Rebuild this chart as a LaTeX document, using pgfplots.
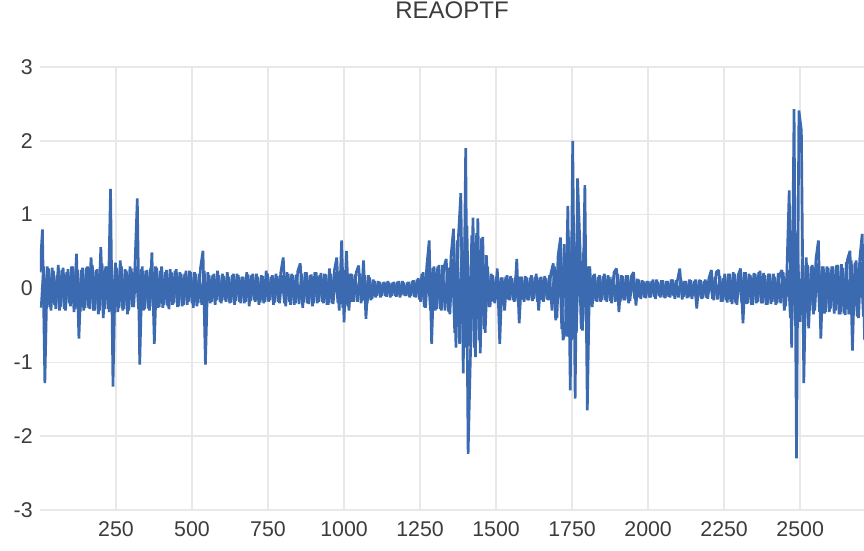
\documentclass[border=0pt]{standalone}
\usepackage{pgfplots}
\pgfplotsset{compat=1.18}
\usepackage{pgfplotstable}
\usepackage{fontspec}
\setmainfont{Liberation Sans}
\usetikzlibrary{calc}
\definecolor{series}{RGB}{59,106,177}
\definecolor{gridc}{RGB}{232,232,232}
\definecolor{txt}{RGB}{60,60,60}
% spikes and main readings, x = 8*i
\pgfplotstableread[row sep=\\]{
y\\
0.22\\0.80\\-1.28\\0.30\\-0.25\\0.28\\-0.22\\0.18\\-0.30\\0.25\\
-0.28\\0.22\\-0.20\\0.30\\-0.32\\0.47\\-0.68\\0.25\\-0.30\\0.28\\
-0.26\\0.42\\-0.30\\0.25\\-0.35\\0.56\\-0.40\\0.30\\-0.28\\1.35\\
-1.33\\0.35\\-0.32\\0.38\\-0.30\\0.26\\-0.35\\0.30\\-0.25\\0.28\\
1.22\\-1.03\\0.30\\-0.28\\0.25\\-0.30\\0.49\\-0.75\\0.28\\-0.25\\
0.30\\-0.22\\0.25\\-0.28\\0.22\\-0.20\\0.26\\-0.24\\0.20\\-0.22\\
0.24\\-0.18\\0.22\\-0.26\\0.20\\-0.20\\0.28\\0.51\\-1.03\\0.22\\
-0.20\\0.18\\-0.22\\0.24\\-0.18\\0.20\\-0.16\\0.22\\-0.20\\0.18\\
-0.22\\0.20\\-0.18\\0.16\\-0.20\\0.22\\-0.24\\0.18\\-0.16\\0.20\\
-0.22\\0.18\\-0.20\\0.24\\-0.18\\0.16\\-0.22\\0.20\\-0.18\\0.22\\
0.42\\-0.24\\0.20\\-0.22\\0.18\\-0.20\\0.24\\0.34\\-0.26\\0.22\\
-0.20\\0.18\\-0.24\\0.22\\-0.20\\0.18\\-0.18\\0.20\\-0.22\\0.27\\
-0.20\\0.24\\0.42\\-0.30\\0.65\\-0.46\\0.51\\-0.30\\0.20\\-0.18\\
0.22\\0.31\\-0.20\\0.38\\-0.41\\0.18\\-0.16\\0.12\\-0.12\\0.10\\
-0.12\\0.08\\-0.10\\0.10\\-0.12\\0.08\\-0.10\\0.09\\-0.12\\0.10\\
-0.10\\0.08\\-0.12\\0.10\\-0.11\\0.12\\-0.15\\0.20\\-0.25\\0.30\\
0.65\\-0.75\\0.30\\-0.28\\0.32\\-0.30\\0.28\\0.40\\-0.32\\0.45\\
0.81\\-0.80\\0.70\\1.29\\-1.15\\1.90\\-2.24\\-0.85\\0.96\\-0.93\\
0.95\\-0.88\\0.70\\-0.60\\0.30\\-0.25\\0.18\\-0.20\\0.27\\-0.75\\
0.15\\-0.30\\0.18\\-0.16\\0.14\\-0.18\\0.40\\-0.47\\0.16\\-0.18\\
0.15\\-0.16\\0.18\\-0.14\\0.20\\-0.30\\0.16\\-0.18\\0.14\\-0.16\\
0.20\\0.34\\-0.43\\0.45\\0.69\\-0.70\\-0.57\\1.12\\-1.38\\2.00\\
-1.49\\1.49\\0.56\\-0.57\\1.40\\-1.65\\0.30\\-0.25\\0.20\\-0.18\\
0.18\\-0.16\\0.20\\-0.18\\0.16\\-0.20\\0.22\\0.27\\-0.32\\0.18\\
-0.16\\0.18\\-0.20\\0.16\\0.22\\-0.23\\0.12\\-0.14\\0.10\\-0.13\\
0.10\\-0.12\\0.12\\-0.14\\0.09\\-0.12\\0.11\\-0.13\\0.10\\-0.12\\
0.12\\-0.14\\0.10\\0.27\\-0.15\\0.10\\-0.13\\0.12\\-0.14\\0.10\\
-0.27\\0.12\\-0.14\\0.10\\-0.12\\0.14\\0.25\\-0.16\\0.22\\0.25\\
-0.18\\0.14\\-0.16\\0.20\\-0.18\\0.22\\-0.20\\0.18\\0.27\\-0.47\\
0.22\\-0.20\\0.18\\-0.22\\0.20\\-0.18\\0.24\\-0.20\\0.18\\-0.22\\
0.20\\-0.18\\0.16\\-0.20\\0.18\\0.25\\-0.30\\0.18\\1.33\\-0.80\\
2.43\\-2.30\\2.41\\2.14\\-1.28\\0.42\\-0.54\\0.30\\-0.35\\0.40\\
0.65\\-0.68\\0.30\\-0.32\\0.28\\-0.27\\0.30\\-0.30\\0.32\\-0.35\\
0.28\\-0.36\\0.40\\0.51\\-0.84\\0.35\\-0.38\\0.40\\0.74\\-0.70\\
}\datatab
% in-between readings of the dense band, x = 4 + 8*i
\pgfplotstableread[row sep=\\]{
y\\
-0.26\\0.30\\-0.22\\0.27\\-0.30\\0.24\\-0.28\\0.32\\-0.25\\0.28\\
-0.30\\0.26\\-0.24\\0.30\\-0.28\\0.25\\-0.32\\0.28\\-0.26\\0.30\\
-0.28\\0.32\\-0.30\\0.26\\-0.30\\0.34\\-0.28\\0.30\\-0.32\\0.28\\
-0.30\\0.28\\-0.26\\0.30\\-0.28\\0.24\\-0.30\\0.27\\-0.25\\0.30\\
-0.28\\0.26\\-0.30\\0.24\\-0.27\\0.28\\-0.25\\0.30\\-0.26\\0.24\\
-0.26\\0.22\\-0.24\\0.26\\-0.22\\0.24\\-0.25\\0.22\\-0.24\\0.20\\
-0.22\\0.24\\-0.20\\0.22\\-0.24\\0.20\\-0.22\\0.24\\-0.20\\0.18\\
-0.18\\0.20\\-0.16\\0.18\\-0.20\\0.17\\-0.18\\0.16\\-0.19\\0.20\\
-0.17\\0.18\\-0.20\\0.16\\-0.18\\0.19\\-0.17\\0.20\\-0.18\\0.16\\
-0.19\\0.17\\-0.18\\0.20\\-0.16\\0.18\\-0.19\\0.17\\-0.20\\0.18\\
-0.20\\0.22\\-0.18\\0.20\\-0.22\\0.19\\-0.21\\0.20\\-0.19\\0.22\\
-0.21\\0.19\\-0.20\\0.22\\-0.18\\0.21\\-0.20\\0.19\\-0.22\\0.20\\
-0.21\\0.22\\-0.20\\0.24\\-0.26\\0.25\\-0.24\\0.20\\-0.18\\0.19\\
-0.18\\0.20\\-0.17\\0.18\\-0.20\\0.15\\-0.14\\0.10\\-0.10\\0.09\\
-0.10\\0.09\\-0.11\\0.08\\-0.10\\0.09\\-0.11\\0.10\\-0.09\\0.08\\
-0.10\\0.09\\-0.10\\0.11\\-0.12\\0.14\\-0.18\\0.22\\-0.26\\0.28\\
-0.30\\0.28\\-0.30\\0.30\\-0.28\\0.32\\-0.30\\0.28\\-0.35\\0.40\\
-0.60\\0.65\\-0.75\\0.70\\-0.80\\0.85\\-0.78\\0.72\\-0.80\\0.75\\
-0.70\\0.68\\-0.55\\0.45\\-0.25\\0.20\\-0.18\\0.16\\-0.18\\0.15\\
-0.17\\0.16\\-0.15\\0.17\\-0.16\\0.15\\-0.18\\0.16\\-0.15\\0.17\\
-0.16\\0.15\\-0.17\\0.16\\-0.18\\0.15\\-0.16\\0.17\\-0.15\\0.18\\
-0.30\\0.30\\-0.40\\0.50\\-0.55\\0.60\\-0.65\\0.70\\-0.70\\0.75\\
-0.60\\0.65\\-0.55\\0.50\\-0.45\\0.30\\-0.20\\0.18\\-0.17\\0.16\\
-0.18\\0.17\\-0.16\\0.18\\-0.17\\0.16\\-0.18\\0.20\\-0.18\\0.17\\
-0.16\\0.18\\-0.17\\0.15\\-0.14\\0.13\\-0.12\\0.11\\-0.12\\0.10\\
-0.12\\0.10\\-0.11\\0.12\\-0.10\\0.11\\-0.12\\0.10\\-0.11\\0.12\\
-0.10\\0.11\\-0.12\\0.12\\-0.11\\0.10\\-0.12\\0.11\\-0.10\\0.12\\
-0.12\\0.11\\-0.13\\0.12\\-0.14\\0.15\\-0.14\\0.16\\-0.15\\0.17\\
-0.18\\0.20\\-0.19\\0.20\\-0.21\\0.20\\-0.22\\0.20\\-0.20\\0.22\\
-0.21\\0.20\\-0.22\\0.21\\-0.20\\0.22\\-0.20\\0.21\\-0.22\\0.20\\
-0.21\\0.20\\-0.22\\0.21\\-0.20\\0.22\\-0.24\\0.25\\-0.40\\0.45\\
-0.50\\0.50\\-0.45\\0.40\\-0.35\\0.32\\-0.30\\0.32\\-0.30\\0.34\\
-0.32\\0.30\\-0.34\\0.30\\-0.32\\0.30\\-0.34\\0.32\\-0.35\\0.33\\
-0.34\\0.36\\-0.35\\0.38\\-0.36\\0.38\\-0.40\\0.36\\-0.38\\0.40\\
}\bandtab
\begin{document}
\begin{tikzpicture}
\begin{axis}[
  name=ax,
  scale only axis,
  width=618pt, height=332.25pt,
  xmin=0, xmax=2710, ymin=-3, ymax=3,
  xtick={250,500,...,2500}, ytick={-3,-2,...,3},
  grid=major,
  major grid style={draw=gridc, line width=1.1pt},
  axis line style={draw=none},
  major tick length=0pt,
  tick style={draw=none},
  /pgf/number format/assume math mode=true,
  /pgf/number format/1000 sep={},
  ticklabel style={font=\fontsize{16}{16}\selectfont, text=txt},
  yticklabel style={xshift=-2pt},
  xticklabel style={yshift=-5.5pt},
  title={REAOPTF},
  title style={at={(0.5,1)}, anchor=base, yshift=30pt, font=\fontsize{18}{18}\selectfont, text=txt},
]
\addplot[series, line width=2pt, line join=bevel, mark=none] table[x expr=4+\coordindex*8, y index=0] {\bandtab};
\addplot[series, line width=2pt, line join=bevel, mark=none] table[x expr=\coordindex*8, y index=0] {\datatab};
\end{axis}
\pgfresetboundingbox
\path ($(ax.south west)+(-30pt,-30.75pt)$) rectangle ($(ax.north east)+(0pt,50.25pt)$);
\end{tikzpicture}
\end{document}
